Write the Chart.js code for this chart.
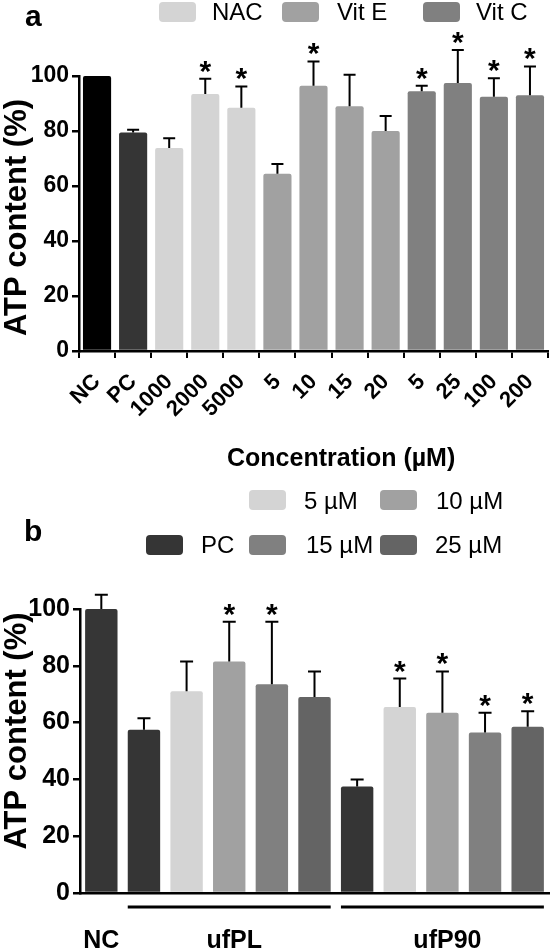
<!DOCTYPE html>
<html>
<head>
<meta charset="utf-8">
<script src="https://cdn.jsdelivr.net/npm/chart.js@4.4.1/dist/chart.umd.min.js"></script>
<style>
  body { margin: 0; background: #fff; }
  #page { position: relative; width: 551px; height: 950px; overflow: hidden;
          font-family: "Liberation Sans", Arial, sans-serif; color: #000; }
  #page canvas { position: absolute; left: 0; }
  .lbl { position: absolute; white-space: nowrap; line-height: 1; }
  .box { position: absolute; border-radius: 4px; }
</style>
</head>
<body>
<div id="page">
  <canvas id="chartA" width="551" height="480" style="top:0"></canvas>
  <canvas id="chartB" width="551" height="470" style="top:480px"></canvas>
  <div class="lbl" style="left:25px;top:1px;font-size:30px;font-weight:bold">a</div>
  <div class="lbl" style="left:24px;top:516px;font-size:30px;font-weight:bold">b</div>
  <div class="lbl" style="left:227px;top:445px;font-size:25px;font-weight:bold">Concentration (µM)</div>
</div>
<script>
Chart.defaults.font.family = '"Liberation Sans", Arial, sans-serif';
Chart.defaults.color = '#000';

// panel a
const catsA = ['NC', 'PC', '1000', '2000', '5000', '5', '10', '15', '20', '5', '25', '100', '200'];
const groupA = ['NC', 'PC', 'NAC', 'NAC', 'NAC', 'Vit E', 'Vit E', 'Vit E', 'Vit E', 'Vit C', 'Vit C', 'Vit C', 'Vit C'];
const meanA = [100, 79.5, 73.8, 93.5, 88.5, 64.5, 96.5, 89, 80, 94.5, 97.5, 92.5, 93];
const errA = [0, 1, 3.6, 5.5, 7.7, 3.5, 8.8, 11.5, 5.5, 2, 12, 6.7, 10.5];
const sigA = [0, 0, 0, 1, 1, 0, 1, 0, 0, 1, 1, 1, 1];
const legendA = ['NAC', 'Vit E', 'Vit C'];

// panel b
const catsB = ['NC', 'PC', '5 µM', '10 µM', '15 µM', '25 µM', 'PC', '5 µM', '10 µM', '15 µM', '25 µM'];
const meanB = [100, 57.5, 71, 81.5, 73.5, 69, 37.5, 65.5, 63.5, 56.5, 58.5];
const errB = [5, 4, 10.5, 14, 22, 9, 2.5, 10, 14.5, 7, 5.5];
const sigB = [0, 0, 0, 1, 1, 0, 0, 1, 1, 1, 1];
const groupsB = [
  { label: 'NC', from: 0, to: 0, line: false },
  { label: 'ufPL', from: 1, to: 5, line: true },
  { label: 'ufP90', from: 6, to: 10, line: true }
];
const legendB = ['5 µM', '10 µM', 'PC', '15 µM', '25 µM'];

const shade = {
  'NC': '#000000', 'PC': '#353535', 'NAC': '#d4d4d4', 'Vit E': '#a1a1a1', 'Vit C': '#808080',
  'NC b': '#363636', '5 µM': '#d4d4d4', '10 µM': '#a1a1a1', '15 µM': '#808080', '25 µM': '#646464'
};

// legends (html)
const page = document.getElementById('page');
function legendItem(name, color, bx, by, tx, ty, size) {
  const b = document.createElement('div');
  b.className = 'box';
  b.style.cssText = 'left:' + bx + 'px;top:' + by + 'px;width:37px;height:20px;background:' + color;
  page.appendChild(b);
  const t = document.createElement('div');
  t.className = 'lbl';
  t.style.cssText = 'left:' + tx + 'px;top:' + ty + 'px;font-size:' + size + 'px';
  t.textContent = name;
  page.appendChild(t);
}
legendItem(legendA[0], shade['NAC'], 159, 2, 212, 0, 24);
legendItem(legendA[1], shade['Vit E'], 282, 2, 337, 0, 24);
legendItem(legendA[2], shade['Vit C'], 423, 2, 476, 0, 24);
legendItem(legendB[0], shade['5 µM'], 249, 490, 304, 489, 24);
legendItem(legendB[1], shade['10 µM'], 380, 490, 436, 489, 24);
legendItem(legendB[2], shade['PC'], 146, 535, 201, 533, 24);
legendItem(legendB[3], shade['15 µM'], 249, 535, 306, 533, 24);
legendItem(legendB[4], shade['25 µM'], 380, 535, 435, 533, 24);

function errorBars(means, errs, sig, capW) {
  return {
    id: 'errorBars',
    afterDatasetsDraw(chart) {
      const ctx = chart.ctx;
      const y = chart.scales.y;
      const bars = chart.getDatasetMeta(0).data;
      ctx.save();
      ctx.strokeStyle = '#000';
      ctx.fillStyle = '#000';
      ctx.lineWidth = 2;
      ctx.font = 'bold 30px "Liberation Sans", Arial';
      ctx.textAlign = 'center';
      ctx.textBaseline = 'alphabetic';
      bars.forEach(function (bar, i) {
        const y0 = y.getPixelForValue(means[i]);
        const y1 = y.getPixelForValue(means[i] + errs[i]);
        if (errs[i] > 0) {
          ctx.beginPath();
          ctx.moveTo(bar.x, y0);
          ctx.lineTo(bar.x, y1);
          ctx.moveTo(bar.x - capW / 2, y1);
          ctx.lineTo(bar.x + capW / 2, y1);
          ctx.stroke();
        }
        if (sig[i]) ctx.fillText('*', bar.x, y1 + 2);
      });
      ctx.restore();
    }
  };
}

// y title drawn by hand so it can sit off-centre like the original
function yTitle(shift) {
  return {
    id: 'yTitle',
    afterDraw(chart) {
      const ctx = chart.ctx;
      const a = chart.chartArea;
      ctx.save();
      ctx.translate(17, (a.top + a.bottom) / 2 + shift);
      ctx.rotate(-Math.PI / 2);
      ctx.fillStyle = '#000';
      ctx.font = 'bold 31px "Liberation Sans", Arial';
      ctx.textAlign = 'center';
      ctx.textBaseline = 'middle';
      ctx.fillText('ATP content (%)', 0, 0);
      ctx.restore();
    }
  };
}

const groupLabels = {
  id: 'groupLabels',
  afterDraw(chart) {
    const ctx = chart.ctx;
    const bars = chart.getDatasetMeta(0).data;
    const base = chart.chartArea.bottom;
    ctx.save();
    ctx.strokeStyle = '#000';
    ctx.fillStyle = '#000';
    ctx.lineWidth = 3;
    ctx.font = 'bold 25px "Liberation Sans", Arial';
    ctx.textAlign = 'center';
    ctx.textBaseline = 'middle';
    groupsB.forEach(function (g) {
      const x0 = bars[g.from].x - bars[g.from].width / 2;
      const x1 = bars[g.to].x + bars[g.to].width / 2;
      if (g.line) {
        ctx.beginPath();
        ctx.moveTo(x0, base + 14);
        ctx.lineTo(x1, base + 14);
        ctx.stroke();
      }
      ctx.fillText(g.label, (x0 + x1) / 2 + (g.line ? 5 : 0), base + 48);
    });
    ctx.restore();
  }
};

function yAxis(tickSize, width) {
  return {
    min: 0, max: 100,
    ticks: { stepSize: 20, padding: 3, font: { size: tickSize, weight: 'bold' }, color: '#000' },
    grid: { drawOnChartArea: false, tickLength: 7, color: '#000', lineWidth: 2.5 },
    border: { color: '#000', width: 2.5 },
    afterFit: function (s) { s.width = width; }
  };
}

new Chart(document.getElementById('chartA').getContext('2d'), {
  type: 'bar',
  data: {
    labels: catsA,
    datasets: [{
      data: meanA,
      backgroundColor: groupA.map(function (g) { return shade[g]; }),
      borderRadius: 2,
      barPercentage: 0.78,
      categoryPercentage: 1
    }]
  },
  options: {
    responsive: false,
    animation: false,
    layout: { padding: { top: 76, right: 3, left: 0, bottom: 0 } },
    plugins: { legend: { display: false }, tooltip: { enabled: false } },
    scales: {
      x: {
        ticks: { autoSkip: false, maxRotation: 45, minRotation: 45, padding: 11,
                 font: { size: 22, weight: 'bold' }, color: '#000' },
        grid: { drawOnChartArea: false, tickLength: 7, color: '#000', lineWidth: 2 },
        border: { color: '#000', width: 2.5 },
        afterFit: function (s) {
          s.height = 129;
          // rotated labels end at the tick, so no side padding is needed
          s.paddingLeft = 0;
          s.paddingRight = 0;
        }
      },
      y: yAxis(23, 79)
    }
  },
  plugins: [errorBars(meanA, errA, sigA, 12), yTitle(4)]
});

new Chart(document.getElementById('chartB').getContext('2d'), {
  type: 'bar',
  data: {
    labels: catsB,
    datasets: [{
      data: meanB,
      backgroundColor: catsB.map(function (c, i) { return i === 0 ? shade['NC b'] : shade[c]; }),
      borderRadius: 2,
      barPercentage: 0.76,
      categoryPercentage: 1
    }]
  },
  options: {
    responsive: false,
    animation: false,
    layout: { padding: { top: 129, right: 2, left: 0, bottom: 0 } },
    plugins: { legend: { display: false }, tooltip: { enabled: false } },
    scales: {
      x: {
        ticks: { display: false },
        grid: { display: false },
        border: { color: '#000', width: 2.5 },
        afterFit: function (s) { s.height = 57; }
      },
      y: yAxis(25, 80)
    }
  },
  plugins: [errorBars(meanB, errB, sigB, 13), groupLabels, yTitle(-20)]
});
</script>
</body>
</html>
